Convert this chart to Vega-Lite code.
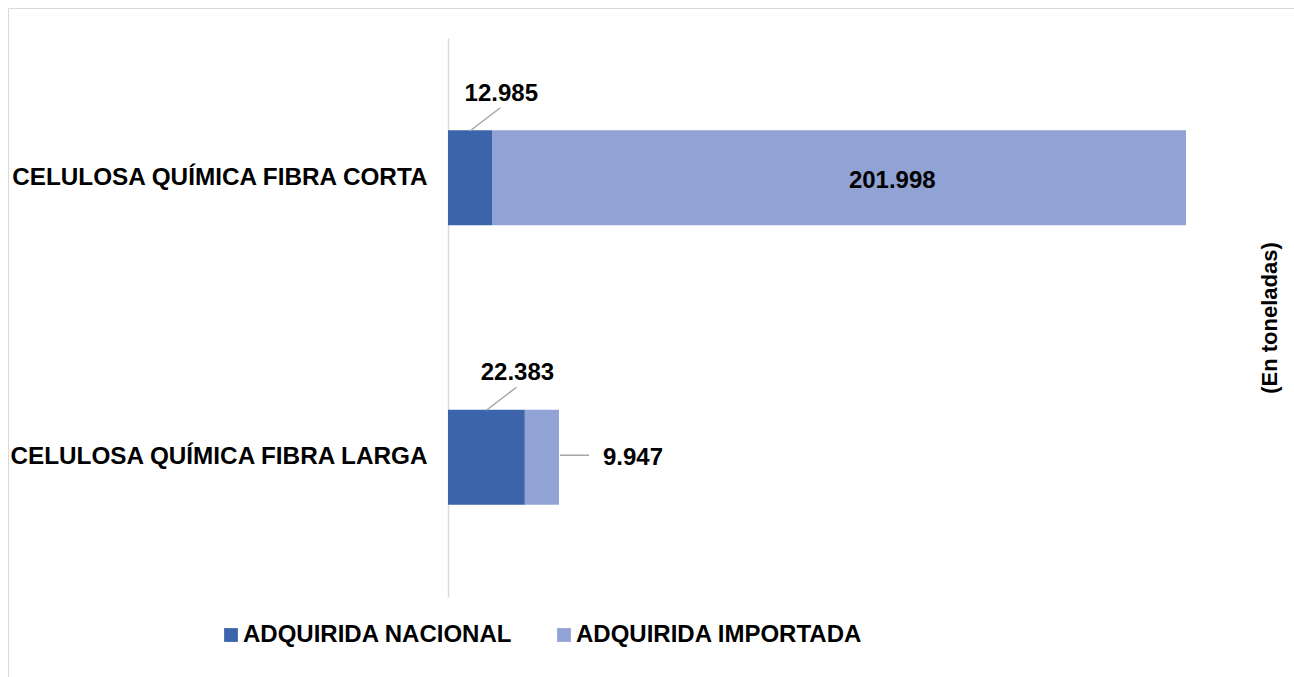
{
  "$schema": "https://vega.github.io/schema/vega-lite/v6.json",
  "autosize": "none",
  "width": 1286,
  "height": 669,
  "padding": {"left": 8, "top": 8, "right": 0, "bottom": 0},
  "background": "white",
  "config": {
    "view": {"stroke": "#d9d9d9", "strokeWidth": 1},
    "font": "Liberation Sans",
    "locale": {"number": {"decimal": ",", "thousands": ".", "grouping": [3], "currency": ["$", ""]}}
  },
  "data": {
    "values": [
      {"producto": "CELULOSA QUÍMICA FIBRA CORTA", "tipo": "ADQUIRIDA NACIONAL", "valor": 12985},
      {"producto": "CELULOSA QUÍMICA FIBRA CORTA", "tipo": "ADQUIRIDA IMPORTADA", "valor": 201998},
      {"producto": "CELULOSA QUÍMICA FIBRA LARGA", "tipo": "ADQUIRIDA NACIONAL", "valor": 22383},
      {"producto": "CELULOSA QUÍMICA FIBRA LARGA", "tipo": "ADQUIRIDA IMPORTADA", "valor": 9947}
    ]
  },
  "transform": [
    {"stack": "valor", "groupby": ["producto"], "sort": [{"field": "tipo", "order": "descending"}], "as": ["x0", "x1"]},
    {"calculate": "(datum.x0 + datum.x1) / 2", "as": "mid"}
  ],
  "resolve": {"axis": {"y": "independent"}},
  "layer": [
    {
      "mark": {"type": "bar"},
      "encoding": {
        "y": {
          "field": "producto", "type": "nominal",
          "scale": {"domain": ["CELULOSA QUÍMICA FIBRA CORTA", "CELULOSA QUÍMICA FIBRA LARGA"], "range": [30, 589], "paddingInner": 0.66, "paddingOuter": 0.33},
          "axis": {"orient": "left", "offset": -440, "title": null, "ticks": false, "labelPadding": 21, "domainColor": "#d9d9d9", "domainWidth": 1.5, "labelFontSize": 24.3, "labelFontWeight": "bold", "labelColor": "black", "labelLimit": 0, "labelFont": "Liberation Sans"}
        },
        "x": {"field": "x0", "type": "quantitative", "scale": {"domain": [0, 214983], "range": [440, 1178], "nice": false, "zero": true}, "axis": null},
        "x2": {"field": "x1"},
        "color": {
          "field": "tipo", "type": "nominal",
          "scale": {"domain": ["ADQUIRIDA NACIONAL", "ADQUIRIDA IMPORTADA"], "range": ["#3b64ab", "#90a3d4"]},
          "legend": {"orient": "none", "legendX": 211, "legendY": 615, "direction": "horizontal", "title": null, "symbolType": "square", "symbolSize": 190, "symbolStrokeWidth": 0, "labelFontSize": 24, "labelFontWeight": "bold", "labelColor": "black", "labelFont": "Liberation Sans", "columnPadding": 39, "labelOffset": 0, "labelLimit": 0}
        }
      }
    },
    {
      "transform": [{"filter": "datum.tipo === 'ADQUIRIDA NACIONAL'"}],
      "mark": {"type": "rule", "color": "#a6a6a6", "strokeWidth": 1.5, "yOffset": -47, "y2Offset": -70, "x2Offset": 30},
      "encoding": {
        "x": {"field": "mid", "type": "quantitative"},
        "x2": {"field": "mid"},
        "y": {"field": "producto", "type": "nominal", "axis": null},
        "y2": {"field": "producto"}
      }
    },
    {
      "transform": [{"filter": "datum.tipo === 'ADQUIRIDA NACIONAL'"}],
      "mark": {"type": "text", "fontSize": 24, "fontWeight": "bold", "color": "black", "align": "center", "baseline": "middle", "dx": 31, "dy": -84},
      "encoding": {
        "x": {"field": "mid", "type": "quantitative"},
        "y": {"field": "producto", "type": "nominal", "axis": null},
        "text": {"field": "valor", "type": "quantitative", "format": ",.0f"}
      }
    },
    {
      "transform": [{"filter": "datum.tipo === 'ADQUIRIDA IMPORTADA' && datum.producto === 'CELULOSA QUÍMICA FIBRA CORTA'"}],
      "mark": {"type": "text", "fontSize": 24, "fontWeight": "bold", "color": "black", "align": "center", "baseline": "middle", "dx": 53, "dy": 3},
      "encoding": {
        "x": {"field": "mid", "type": "quantitative"},
        "y": {"field": "producto", "type": "nominal", "axis": null},
        "text": {"field": "valor", "type": "quantitative", "format": ",.0f"}
      }
    },
    {
      "transform": [{"filter": "datum.tipo === 'ADQUIRIDA IMPORTADA' && datum.producto === 'CELULOSA QUÍMICA FIBRA LARGA'"}],
      "mark": {"type": "text", "fontSize": 24, "fontWeight": "bold", "color": "black", "align": "left", "baseline": "middle", "dx": 44, "dy": 1},
      "encoding": {
        "x": {"field": "x1", "type": "quantitative"},
        "y": {"field": "producto", "type": "nominal", "axis": null},
        "text": {"field": "valor", "type": "quantitative", "format": ",.0f"}
      }
    },
    {
      "transform": [{"filter": "datum.tipo === 'ADQUIRIDA IMPORTADA' && datum.producto === 'CELULOSA QUÍMICA FIBRA LARGA'"}],
      "mark": {"type": "rule", "color": "#a6a6a6", "strokeWidth": 1.5, "xOffset": 1, "x2Offset": 30, "yOffset": -2},
      "encoding": {
        "x": {"field": "x1", "type": "quantitative"},
        "x2": {"field": "x1"},
        "y": {
          "field": "producto", "type": "nominal",
          "axis": {"orient": "right", "offset": -25, "labels": false, "ticks": false, "domain": false, "grid": false, "title": "(En toneladas)", "titleAngle": 270, "titleAlign": "center", "titleBaseline": "middle", "titleX": 0, "titleY": 309.5, "titleFontSize": 22, "titleFontWeight": "bold", "titleColor": "black", "titleFont": "Liberation Sans"}
        }
      }
    }
  ]
}
